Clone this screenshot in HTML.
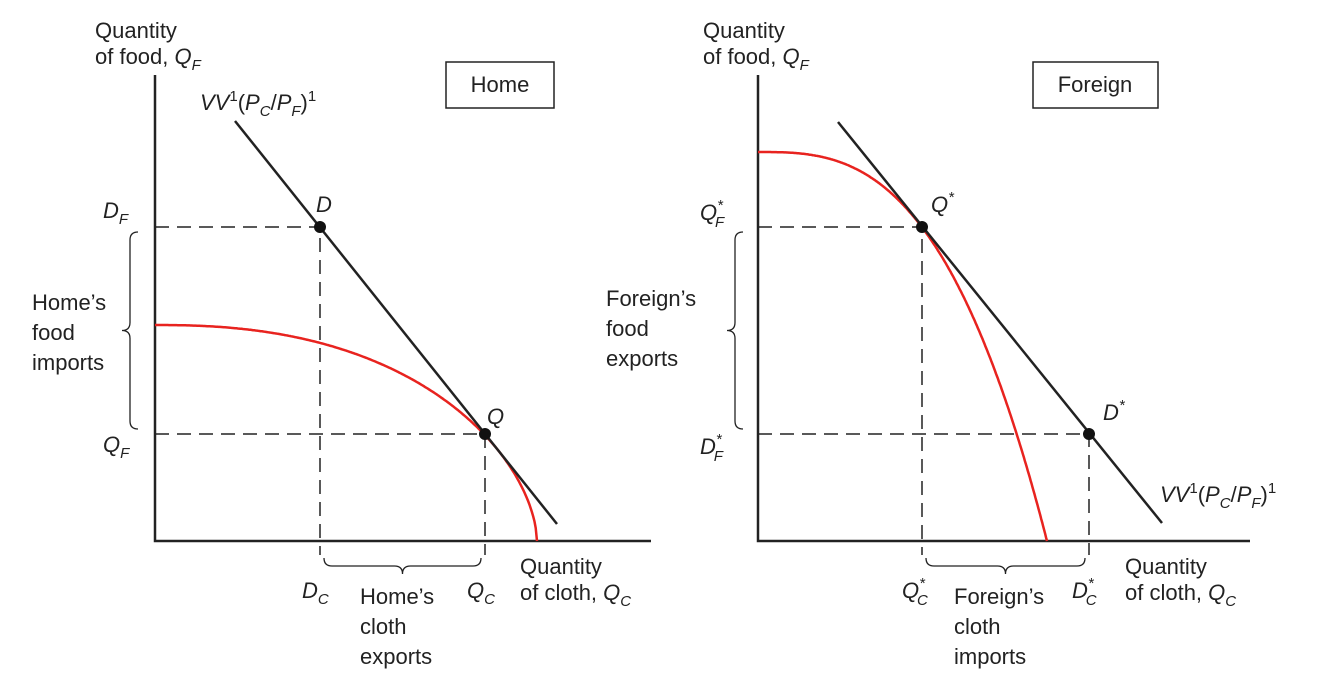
<!DOCTYPE html>
<html><head><meta charset="utf-8"><style>
html,body{margin:0;padding:0;background:#fff;}
svg{display:block;font-family:"Liberation Sans",sans-serif;}
text{font-size:22px;fill:#222;}
.it{font-style:italic;}
</style></head><body>
<svg id="chart" width="1339" height="682" viewBox="0 0 1339 682">
<g id="home"></g>
<g id="foreign"></g>
<g>
<text x="95" y="38">Quantity</text>
<text x="95" y="64">of food, <tspan class="it">Q</tspan><tspan class="it" font-size="15" dy="6">F</tspan></text>
<rect x="446" y="62" width="108" height="46" fill="#fff" stroke="#222" stroke-width="1.5"/>
<text x="500" y="92" text-anchor="middle">Home</text>
<text x="200" y="110" class="it">VV<tspan font-style="normal" font-size="15" dy="-9">1</tspan><tspan font-style="normal" dy="9">(</tspan>P<tspan font-size="15" dy="6">C</tspan><tspan font-style="normal" dy="-6">/</tspan>P<tspan font-size="15" dy="6">F</tspan><tspan font-style="normal" dy="-6">)</tspan><tspan font-style="normal" font-size="15" dy="-9">1</tspan></text>
<text x="103" y="218" class="it">D<tspan font-size="15" dy="6">F</tspan></text>
<text x="316" y="212" class="it">D</text>
<text x="103" y="452" class="it">Q<tspan font-size="15" dy="6">F</tspan></text>
<text x="487" y="424" class="it">Q</text>
<text x="32" y="310">Home’s</text>
<text x="32" y="340">food</text>
<text x="32" y="370">imports</text>
<text x="302" y="598" class="it">D<tspan font-size="15" dy="6">C</tspan></text>
<text x="467" y="598" class="it">Q<tspan font-size="15" dy="6">C</tspan></text>
<text x="360" y="604">Home’s</text>
<text x="360" y="634">cloth</text>
<text x="360" y="664">exports</text>
<text x="520" y="574">Quantity</text>
<text x="520" y="600">of cloth, <tspan class="it">Q</tspan><tspan class="it" font-size="15" dy="6">C</tspan></text>
</g>
<g>
<text x="703" y="38">Quantity</text>
<text x="703" y="64">of food, <tspan class="it">Q</tspan><tspan class="it" font-size="15" dy="6">F</tspan></text>
<rect x="1033" y="62" width="125" height="46" fill="#fff" stroke="#222" stroke-width="1.5"/>
<text x="1095" y="92" text-anchor="middle">Foreign</text>
<text x="1160" y="502" class="it">VV<tspan font-style="normal" font-size="15" dy="-9">1</tspan><tspan font-style="normal" dy="9">(</tspan>P<tspan font-size="15" dy="6">C</tspan><tspan font-style="normal" dy="-6">/</tspan>P<tspan font-size="15" dy="6">F</tspan><tspan font-style="normal" dy="-6">)</tspan><tspan font-style="normal" font-size="15" dy="-9">1</tspan></text>
<text x="700" y="220" class="it">Q<tspan font-size="15" dy="-10">*</tspan><tspan font-size="15" dx="-8" dy="17">F</tspan></text>
<text x="931" y="212" class="it">Q<tspan font-size="15" dy="-10">*</tspan></text>
<text x="700" y="454" class="it">D<tspan font-size="15" dy="-10">*</tspan><tspan font-size="15" dx="-8" dy="17">F</tspan></text>
<text x="1103" y="420" class="it">D<tspan font-size="15" dy="-10">*</tspan></text>
<text x="606" y="306">Foreign’s</text>
<text x="606" y="336">food</text>
<text x="606" y="366">exports</text>
<text x="902" y="598" class="it">Q<tspan font-size="15" dy="-10">*</tspan><tspan font-size="15" dx="-8" dy="17">C</tspan></text>
<text x="1072" y="598" class="it">D<tspan font-size="15" dy="-10">*</tspan><tspan font-size="15" dx="-8" dy="17">C</tspan></text>
<text x="954" y="604">Foreign’s</text>
<text x="954" y="634">cloth</text>
<text x="954" y="664">imports</text>
<text x="1125" y="574">Quantity</text>
<text x="1125" y="600">of cloth, <tspan class="it">Q</tspan><tspan class="it" font-size="15" dy="6">C</tspan></text>
</g>
</svg>
<script>
// Data in abstract units (1 unit = 4px)
const panelNames = ['home','foreign'];
const origins = [[155,541],[758,541]];
const axisLengths = [[124,116.5],[123,116.5]];
const ppfIntercepts = [[95.5,54],[72.25,97.25]]; // cloth intercept, food intercept
const ppfClothExp = [2.35,2.9];
const ppfFoodExp = [1.73,1];
const productionPts = [[82.5,26.75],[41,78.5]];
const consumptionPts = [[41.25,78.5],[82.75,26.75]];
const priceLineEnds = [[[20,105],[100.5,4.25]],[[20,104.75],[101,4.5]]];
const S = 4;
const NS = 'http://www.w3.org/2000/svg';
function mk(tag, attrs, parent){const e=document.createElementNS(NS,tag);for(const k in attrs)e.setAttribute(k,attrs[k]);parent.appendChild(e);return e;}
panelNames.forEach((nm,i)=>{
  const g=document.getElementById(nm);
  const [ox,oy]=origins[i];
  const X=v=>ox+v*S, Y=v=>oy-v*S;
  const [ax,ay]=axisLengths[i];
  let a=mk('polyline',{points:`${X(0)},${Y(ay)} ${X(0)},${Y(0)} ${X(ax)},${Y(0)}`,fill:'none',stroke:'#222','stroke-width':2.5},g);
  
  
  const P=productionPts[i], C=consumptionPts[i];
  const hi = P[1]>C[1]?P:C, lo = P[1]>C[1]?C:P;
  const dash={stroke:'#222','stroke-width':1.5,'stroke-dasharray':'14,8',fill:'none'};
  let d1=mk('path',Object.assign({d:`M${X(0)},${Y(hi[1])}H${X(hi[0])}V${oy+14}M${X(0)},${Y(lo[1])}H${X(lo[0])}V${oy+14}`},dash),g);
  
  
  const [a0,b0]=ppfIntercepts[i], p=ppfClothExp[i], q=ppfFoodExp[i];
  let pts=[];for(let k=0;k<=300;k++){const u=k/300;pts.push(`${X(a0*u).toFixed(1)},${Y(b0*Math.pow(Math.max(0,1-Math.pow(u,p)),1/q)).toFixed(1)}`);}
  let pp=mk('polyline',{points:pts.join(' '),fill:'none',stroke:'#e8231f','stroke-width':2.5},g);
  
  
  const L=priceLineEnds[i];
  let ln=mk('line',{x1:X(L[0][0]),y1:Y(L[0][1]),x2:X(L[1][0]),y2:Y(L[1][1]),stroke:'#222','stroke-width':2.5},g);
  
  
  [P,C].forEach((pt,j)=>{
    let c=mk('circle',{cx:X(pt[0]),cy:Y(pt[1]),r:6,fill:'#111'},g);
    
    
  });
  const bx=i?ox-23:ox-25, y1=Y(hi[1])+5, y2=Y(lo[1])-5, ym=(y1+y2)/2;
  let br=mk('path',{d:`M${bx+8},${y1} Q${bx},${y1} ${bx},${y1+8} V${ym-8} Q${bx},${ym} ${bx-8},${ym} Q${bx},${ym} ${bx},${ym+8} V${y2-8} Q${bx},${y2} ${bx+8},${y2}`,fill:'none',stroke:'#222','stroke-width':1.3},g);
  
  
  const x1=X(Math.min(P[0],C[0]))+4, x2=X(Math.max(P[0],C[0]))-4, xm=(x1+x2)/2, by=oy+25;
  let br2=mk('path',{d:`M${x1},${by-8} Q${x1},${by} ${x1+8},${by} H${xm-8} Q${xm},${by} ${xm},${by+8} Q${xm},${by} ${xm+8},${by} H${x2-8} Q${x2},${by} ${x2},${by-8}`,fill:'none',stroke:'#222','stroke-width':1.3},g);
  
  
});
</script>
</body></html>
